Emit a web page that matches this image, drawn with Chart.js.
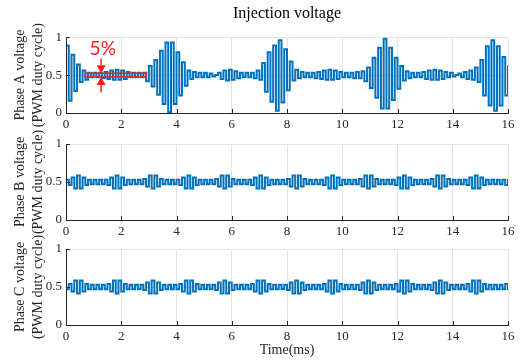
<!DOCTYPE html>
<html><head><meta charset="utf-8">
<script src="https://cdn.jsdelivr.net/npm/chart.js@4.4.1/dist/chart.umd.min.js"></script>
<style>
html,body{margin:0;padding:0;background:#fff;}
#wrap{position:relative;width:532px;height:360px;overflow:hidden;background:#fff;}
canvas{position:absolute;left:0;}
</style></head><body>
<div id="wrap">
<canvas id="cA" width="532" height="135" style="top:0px"></canvas>
<canvas id="cB" width="532" height="122" style="top:120px"></canvas>
<canvas id="cC" width="532" height="135" style="top:225px"></canvas>
</div>
<script>
// ---- data ----
const chartTitle = 'Injection voltage';
const xAxisTitle = 'Time(ms)';
const panelLabels = [
  ['Phase A voltage', '(PWM duty cycle)'],
  ['Phase B voltage', '(PWM duty cycle)'],
  ['Phase C voltage', '(PWM duty cycle)']
];
const xTicks = [0, 2, 4, 6, 8, 10, 12, 14, 16];
const yTicks = [0, 0.5, 1];

const timeMs = [
  0,0.1,0.2,0.3,0.4,0.5,0.6,0.7,0.8,0.9,
  1,1.1,1.2,1.3,1.4,1.5,1.6,1.7,1.8,1.9,
  2,2.1,2.2,2.3,2.4,2.5,2.6,2.7,2.8,2.9,
  3,3.1,3.2,3.3,3.4,3.5,3.6,3.7,3.8,3.9,
  4,4.1,4.2,4.3,4.4,4.5,4.6,4.7,4.8,4.9,
  5,5.1,5.2,5.3,5.4,5.5,5.6,5.7,5.8,5.9,
  6,6.1,6.2,6.3,6.4,6.5,6.6,6.7,6.8,6.9,
  7,7.1,7.2,7.3,7.4,7.5,7.6,7.7,7.8,7.9,
  8,8.1,8.2,8.3,8.4,8.5,8.6,8.7,8.8,8.9,
  9,9.1,9.2,9.3,9.4,9.5,9.6,9.7,9.8,9.9,
  10,10.1,10.2,10.3,10.4,10.5,10.6,10.7,10.8,10.9,
  11,11.1,11.2,11.3,11.4,11.5,11.6,11.7,11.8,11.9,
  12,12.1,12.2,12.3,12.4,12.5,12.6,12.7,12.8,12.9,
  13,13.1,13.2,13.3,13.4,13.5,13.6,13.7,13.8,13.9,
  14,14.1,14.2,14.3,14.4,14.5,14.6,14.7,14.8,14.9,
  15,15.1,15.2,15.3,15.4,15.5,15.6,15.7,15.8,15.9,
  16
];

const phaseA = [
  0.89,0.16,0.77,0.29,0.64,0.41,0.56,0.44,0.53,0.47,
  0.53,0.47,0.53,0.46,0.54,0.45,0.56,0.44,0.57,0.44,
  0.56,0.45,0.54,0.47,0.53,0.47,0.53,0.47,0.53,0.42,
  0.62,0.35,0.70,0.24,0.82,0.12,0.93,0.01,0.93,0.12,
  0.80,0.23,0.67,0.36,0.56,0.45,0.54,0.47,0.53,0.47,
  0.53,0.47,0.52,0.48,0.50,0.53,0.45,0.56,0.43,0.57,
  0.44,0.55,0.46,0.53,0.47,0.53,0.47,0.53,0.46,0.56,
  0.44,0.66,0.28,0.80,0.15,0.89,0.03,0.96,0.14,0.84,
  0.30,0.68,0.43,0.57,0.46,0.54,0.47,0.53,0.47,0.53,
  0.46,0.54,0.45,0.56,0.44,0.57,0.44,0.56,0.45,0.54,
  0.47,0.53,0.47,0.53,0.46,0.54,0.46,0.55,0.42,0.60,
  0.33,0.73,0.20,0.86,0.06,0.98,0.06,0.86,0.17,0.73,
  0.32,0.62,0.43,0.55,0.46,0.53,0.47,0.53,0.47,0.54,
  0.45,0.56,0.44,0.57,0.44,0.56,0.45,0.54,0.47,0.53,
  0.48,0.50,0.52,0.47,0.54,0.45,0.56,0.44,0.60,0.41,
  0.70,0.23,0.88,0.10,0.96,0.03,0.88,0.10,0.74,0.23,
  0.63
];

const phaseB = [
  0.53,0.46,0.56,0.415,0.585,0.415,0.56,0.46,
  0.53,0.47,0.53,0.47,0.53,0.47,
  0.53,0.46,0.56,0.415,0.585,0.415,0.56,0.46,
  0.53,0.47,0.53,0.47,0.53,0.47,
  0.54,0.44,0.585,0.415,0.585,0.44,0.54,
  0.47,0.53,0.47,0.53,0.47,
  0.53,0.46,0.56,0.415,0.585,0.415,0.56,0.46,
  0.53,0.47,0.53,0.47,0.53,0.47,
  0.54,0.44,0.585,0.415,0.585,0.44,0.54,
  0.47,0.53,0.47,0.53,0.47,
  0.53,0.46,0.56,0.415,0.585,0.415,0.56,0.46,
  0.53,0.47,0.53,0.47,0.53,0.47,
  0.54,0.44,0.585,0.415,0.585,0.44,0.54,
  0.47,0.53,0.47,0.53,0.47,
  0.53,0.46,0.56,0.415,0.585,0.415,0.56,0.46,
  0.53,0.47,0.53,0.47,0.53,0.47,
  0.54,0.44,0.585,0.415,0.585,0.44,0.54,
  0.47,0.53,0.47,0.53,0.47,
  0.53,0.46,0.56,0.415,0.585,0.415,0.56,0.46,
  0.53,0.47,0.53,0.47,0.53,0.47,
  0.54,0.44,0.585,0.415,0.585,0.44,0.54,
  0.47,0.53,0.47,0.53,0.47,
  0.53,0.46,0.56,0.415,0.585,0.415,0.56,0.46,
  0.53,0.47,0.53,0.47,0.53,0.47,0.53,0.46,0.54
];

const phaseC = [
  0.47,0.54,0.44,0.585,0.415,0.585,0.44,0.54,
  0.47,0.53,0.47,0.53,0.47,0.53,
  0.47,0.54,0.44,0.585,0.415,0.585,0.44,0.54,
  0.47,0.53,0.47,0.53,0.47,0.53,
  0.46,0.56,0.415,0.585,0.415,0.56,0.46,
  0.53,0.47,0.53,0.47,0.53,
  0.47,0.54,0.44,0.585,0.415,0.585,0.44,0.54,
  0.47,0.53,0.47,0.53,0.47,0.53,
  0.46,0.56,0.415,0.585,0.415,0.56,0.46,
  0.53,0.47,0.53,0.47,0.53,
  0.47,0.54,0.44,0.585,0.415,0.585,0.44,0.54,
  0.47,0.53,0.47,0.53,0.47,0.53,
  0.46,0.56,0.415,0.585,0.415,0.56,0.46,
  0.53,0.47,0.53,0.47,0.53,
  0.47,0.54,0.44,0.585,0.415,0.585,0.44,0.54,
  0.47,0.53,0.47,0.53,0.47,0.53,
  0.46,0.56,0.415,0.585,0.415,0.56,0.46,
  0.53,0.47,0.53,0.47,0.53,
  0.47,0.54,0.44,0.585,0.415,0.585,0.44,0.54,
  0.47,0.53,0.47,0.53,0.47,0.53,
  0.46,0.56,0.415,0.585,0.415,0.56,0.46,
  0.53,0.47,0.53,0.47,0.53,
  0.47,0.54,0.44,0.585,0.415,0.585,0.44,0.54,
  0.47,0.53,0.47,0.53,0.47,0.53,0.47,0.54,0.46
];

// 5% band annotation (data coordinates)
const bandLow = 0.475, bandHigh = 0.525;
const bandStart = 0.7, bandEnd = 2.9;
const arrowTime = 1.27;
const arrowTopFrom = 0.72, arrowBottomFrom = 0.275;
const bandLabel = '5%';
const bandLabelPos = [1.33, 0.85];

// ---- styling / rendering ----
const SERIF = "'Liberation Serif', 'DejaVu Serif', serif";
Chart.defaults.font.family = SERIF;
Chart.defaults.color = '#262626';
const LINE_COLOR = '#0072BD';
const GRID_COLOR = '#e4e4e4';
const AXIS_COLOR = '#262626';

const inwardTicks = {
  id: 'inwardTicks',
  afterDraw(chart) {
    const {ctx, chartArea: {left, bottom}, scales: {x, y}} = chart;
    ctx.save();
    ctx.strokeStyle = AXIS_COLOR;
    ctx.lineWidth = 1;
    x.ticks.forEach(t => {
      const px = Math.round(x.getPixelForValue(t.value)) + 0.5;
      ctx.beginPath(); ctx.moveTo(px, bottom); ctx.lineTo(px, bottom - 4); ctx.stroke();
    });
    y.ticks.forEach(t => {
      const py = Math.round(y.getPixelForValue(t.value)) + 0.5;
      ctx.beginPath(); ctx.moveTo(left, py); ctx.lineTo(left + 4, py); ctx.stroke();
    });
    ctx.restore();
  }
};

function yLabelPlugin(lines) {
  return {
    id: 'yTwoLineLabel',
    afterDraw(chart) {
      const {ctx, chartArea: {top, bottom}} = chart;
      const cy = (top + bottom) / 2;
      const xs = [20, 38];
      ctx.save();
      ctx.fillStyle = '#262626';
      ctx.font = "14px " + SERIF;
      ctx.textAlign = 'center';
      ctx.textBaseline = 'middle';
      lines.forEach((txt, i) => {
        ctx.save();
        ctx.translate(xs[i], cy);
        ctx.rotate(-Math.PI / 2);
        ctx.fillText(txt, 0, 0);
        ctx.restore();
      });
      ctx.restore();
    }
  };
}

const bandAnnotation = {
  id: 'bandAnnotation',
  afterDatasetsDraw(chart) {
    const {ctx, scales: {x, y}} = chart;
    const red = '#ff1a1a';
    const x0 = x.getPixelForValue(bandStart), x1 = x.getPixelForValue(bandEnd);
    const yHi = y.getPixelForValue(bandHigh), yLo = y.getPixelForValue(bandLow);
    ctx.save();
    ctx.strokeStyle = red; ctx.fillStyle = red; ctx.lineWidth = 1.5;
    ctx.strokeRect(x0, yHi, x1 - x0, yLo - yHi);
    const ax = x.getPixelForValue(arrowTime);
    const head = 8, hw = 4.5;
    const yA = y.getPixelForValue(arrowTopFrom);
    ctx.beginPath(); ctx.moveTo(ax, yA); ctx.lineTo(ax, yHi - head); ctx.stroke();
    ctx.beginPath(); ctx.moveTo(ax - hw, yHi - head); ctx.lineTo(ax + hw, yHi - head); ctx.lineTo(ax, yHi); ctx.closePath(); ctx.fill();
    const yB = y.getPixelForValue(arrowBottomFrom);
    ctx.beginPath(); ctx.moveTo(ax, yB); ctx.lineTo(ax, yLo + head); ctx.stroke();
    ctx.beginPath(); ctx.moveTo(ax - hw, yLo + head); ctx.lineTo(ax + hw, yLo + head); ctx.lineTo(ax, yLo); ctx.closePath(); ctx.fill();
    ctx.font = "19px 'Lato', 'Liberation Sans', sans-serif";
    ctx.textAlign = 'center'; ctx.textBaseline = 'middle';
    ctx.fillText(bandLabel, x.getPixelForValue(bandLabelPos[0]), y.getPixelForValue(bandLabelPos[1]));
    ctx.restore();
  }
};

function makePanel(canvasId, values, yLabel, opts) {
  const ctx = document.getElementById(canvasId);
  const plugins = [inwardTicks, yLabelPlugin(yLabel)];
  if (opts.extra) plugins.push(opts.extra);
  return new Chart(ctx, {
    type: 'line',
    data: {
      labels: timeMs,
      datasets: [{
        data: values,
        borderColor: LINE_COLOR,
        borderWidth: 2,
        pointRadius: 0,
        stepped: true,
        fill: false,
        tension: 0
      }]
    },
    options: {
      responsive: false,
      animation: false,
      events: [],
      layout: {padding: {left: 0, right: 24, top: opts.padTop, bottom: 0}},
      plugins: {
        legend: {display: false},
        tooltip: {enabled: false},
        title: opts.title ? {
          display: true, text: opts.title, fullSize: false,
          color: '#000', font: {size: 16, weight: 'normal', family: SERIF, lineHeight: 1.2},
          padding: {top: 4, bottom: 14}
        } : {display: false}
      },
      scales: {
        x: {
          type: 'linear', min: 0, max: 16,
          afterBuildTicks: s => { s.ticks = xTicks.map(v => ({value: v})); },
          afterFit: s => { s.height = opts.xHeight; },
          grid: {color: GRID_COLOR, drawTicks: false, lineWidth: 1},
          border: {display: true, color: AXIS_COLOR, width: 1, z: 1},
          ticks: {padding: 4, font: {size: 13, family: SERIF}, color: '#262626', maxRotation: 0,
                  callback: v => String(v)},
          title: opts.xTitle ? {
            display: true, text: opts.xTitle, color: '#262626',
            font: {size: 14, family: SERIF, lineHeight: 1.2}, padding: {top: 0, bottom: 1}
          } : {display: false}
        },
        y: {
          type: 'linear', min: 0, max: 1,
          afterBuildTicks: s => { s.ticks = yTicks.map(v => ({value: v})); },
          afterFit: s => { s.width = 66; },
          grid: {color: GRID_COLOR, drawTicks: false, lineWidth: 1},
          border: {display: true, color: AXIS_COLOR, width: 1, z: 1},
          ticks: {padding: 4, font: {size: 13, family: SERIF}, color: '#262626',
                  callback: v => String(v)},
          title: {display: false}
        }
      }
    },
    plugins: plugins
  });
}

makePanel('cA', phaseA, panelLabels[0], {padTop: 0, xHeight: 22, title: chartTitle, extra: bandAnnotation});
makePanel('cB', phaseB, panelLabels[1], {padTop: 24, xHeight: 22});
makePanel('cC', phaseC, panelLabels[2], {padTop: 24, xHeight: 35, xTitle: xAxisTitle});
</script>
</body></html>
